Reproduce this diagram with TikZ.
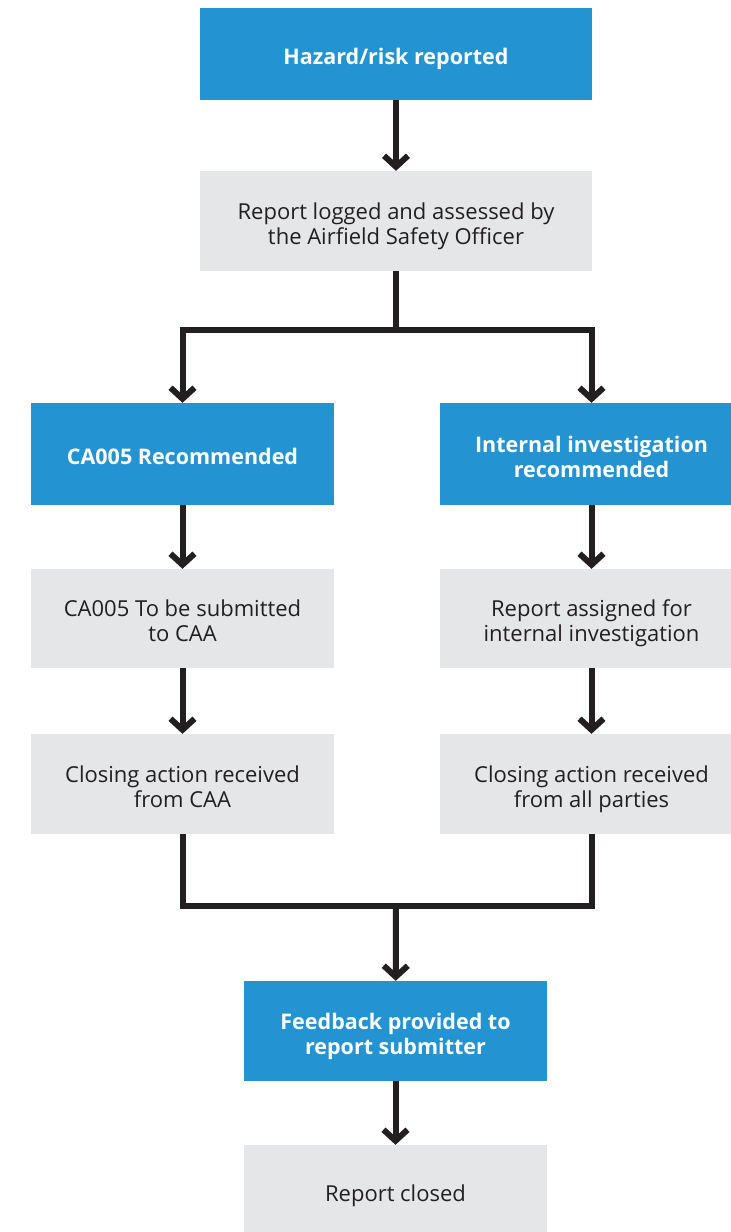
\documentclass[tikz,border=0pt]{standalone}
\usepackage{fontspec}
\setmainfont{Open Sans}
\usetikzlibrary{arrows.meta}
\definecolor{boxblue}{HTML}{2394D1}
\definecolor{boxgray}{HTML}{E5E6E8}
\definecolor{ink}{HTML}{231F20}
\newcommand\boxtxt[1]{\raisebox{-5.5pt}[\height][\depth]{\begin{tabular}{@{}c@{}}#1\end{tabular}}}
\tikzset{
  basebox/.style={rectangle, draw=none, inner sep=0pt},
  bluebox/.style={basebox, fill=boxblue, text=white, font=\fontsize{21.5}{25}\selectfont\bfseries},
  graybox/.style={basebox, fill=boxgray, text=ink, font=\fontsize{22}{25}\selectfont},
  wide/.style={minimum width=392pt},
  narrow/.style={minimum width=303pt},
  conn/.style={draw=ink, line width=6pt, line join=miter},
  arr/.style={conn, -{Straight Barb[length=11pt,width=24pt,line join=miter]}}
}
\begin{document}
\begin{tikzpicture}[x=1pt,y=-1pt]
\useasboundingbox (0,0) rectangle (731,1232);
\clip (0,0) rectangle (731,1232);
\node[bluebox, wide, minimum height=92pt] (top) at (396,54) {\boxtxt{Hazard/risk reported}};
\node[graybox, wide, minimum height=100pt] (logged) at (396,221) {\boxtxt{Report logged and assessed by\\the Airfield Safety Officer}};
\node[bluebox, narrow, minimum height=102pt] (ca) at (182.5,454) {\boxtxt{CA005 Recommended}};
\node[bluebox, narrow, minimum height=102pt] (ii) at (591.5,454) {\boxtxt{Internal investigation\\recommended}};
\node[graybox, narrow, minimum height=99pt] (sub) at (182.5,618.5) {\boxtxt{CA005 To be submitted\\to CAA}};
\node[graybox, narrow, minimum height=99pt] (assign) at (591.5,618.5) {\boxtxt{Report assigned for\\internal investigation}};
\node[graybox, narrow, minimum height=100pt] (closeL) at (182.5,784) {\boxtxt{Closing action received\\from CAA}};
\node[graybox, narrow, minimum height=100pt] (closeR) at (591.5,784) {\boxtxt{Closing action received\\from all parties}};
\node[bluebox, narrow, minimum height=100pt] (fb) at (395.5,1031) {\boxtxt{Feedback provided to\\report submitter}};
\node[graybox, narrow, minimum height=92pt] (closed) at (395.5,1191) {\boxtxt{Report closed}};
\coordinate (split) at (396,330);
\coordinate (merge) at (396,906);
\draw[arr] (top) -- (logged);
\draw[conn] (logged.south) -- (split);
\draw[arr] (split) -| (ca.north);
\draw[arr] (split) -| (ii.north);
\draw[arr] (ca) -- (sub);
\draw[arr] (sub) -- (closeL);
\draw[arr] (ii) -- (assign);
\draw[arr] (assign) -- (closeR);
\draw[conn] (closeL.south) |- (merge);
\draw[conn] (closeR.south) |- (merge);
\draw[arr] (merge) -- (fb);
\draw[arr] (fb) -- (closed);
\end{tikzpicture}
\end{document}
